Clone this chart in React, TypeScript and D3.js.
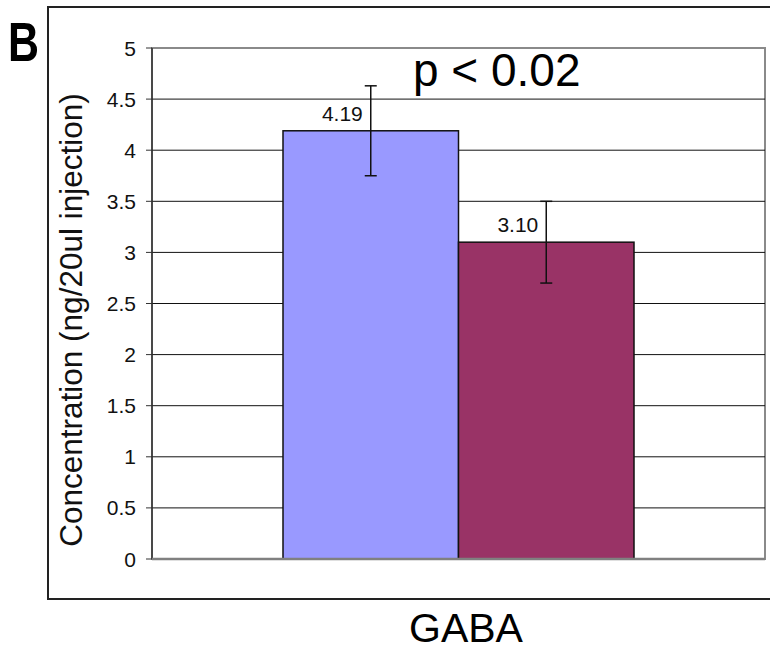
import React from 'react';
import * as d3 from 'd3';

// data
const categories = ['Control', 'Treated'];
const means = [4.19, 3.10];
const errors = [0.44, 0.40];
const barColors = ['#9999FF', '#993366'];
const yTicks = [0, 0.5, 1, 1.5, 2, 2.5, 3, 3.5, 4, 4.5, 5];
const groupLabel = 'GABA';
const yTitle = 'Concentration (ng/20ul injection)';
const annotation = 'p < 0.02';

const W = 770, H = 652;
const plot = { left: 152, right: 765, top: 48, bottom: 559 };
const font = 'Liberation Sans, Arial, sans-serif';

const App = () => {
  const y = d3.scaleLinear().domain([0, 5]).range([plot.bottom, plot.top]);
  // single category group, bars occupy the middle band
  const x = d3.scaleBand().domain(categories).range([283, 634]).padding(0);

  return (
    <svg width={W} height={H} style={{ position: 'absolute', left: 0, top: 0, background: '#fff' }}>
      {/* outer frame */}
      <rect x={48} y={7} width={760} height={592} fill="none" stroke="#222" strokeWidth={2} />
      <text x={8} y={61} fontFamily={font} fontWeight="bold" fontSize={55} textLength={31} lengthAdjust="spacingAndGlyphs">B</text>

      {/* plot area border */}
      <rect x={plot.left} y={plot.top} width={plot.right - plot.left} height={plot.bottom - plot.top} fill="#fff" stroke="#8a8a8a" strokeWidth={2} />

      {/* gridlines */}
      {yTicks.filter(t => t > 0 && t < 5).map(t => (
        <line key={t} x1={plot.left} x2={plot.right} y1={y(t)} y2={y(t)} stroke="#111" strokeWidth={1} />
      ))}

      {/* bars */}
      {categories.map((c, i) => (
        <rect key={c} x={x(c)} y={y(means[i])} width={x.bandwidth()} height={y(0) - y(means[i])}
          fill={barColors[i]} stroke="#111" strokeWidth={1.5} />
      ))}

      {/* error bars */}
      {categories.map((c, i) => {
        const cx = (x(c) as number) + x.bandwidth() / 2;
        return (
          <g key={c} stroke="#111" strokeWidth={1.5}>
            <line x1={cx} x2={cx} y1={y(means[i] + errors[i])} y2={y(means[i] - errors[i])} />
            <line x1={cx - 6} x2={cx + 6} y1={y(means[i] + errors[i])} y2={y(means[i] + errors[i])} />
            <line x1={cx - 6} x2={cx + 6} y1={y(means[i] - errors[i])} y2={y(means[i] - errors[i])} />
          </g>
        );
      })}

      {/* value labels */}
      {categories.map((c, i) => {
        const cx = (x(c) as number) + x.bandwidth() / 2;
        return (
          <text key={c} x={cx - 8} y={y(means[i]) - 10} textAnchor="end" fontFamily={font} fontSize={21} fill="#111">
            {means[i].toFixed(2)}
          </text>
        );
      })}

      {/* axes */}
      <line x1={plot.left} x2={plot.left} y1={plot.top} y2={plot.bottom} stroke="#333" strokeWidth={1.5} />
      <line x1={plot.left} x2={plot.right} y1={plot.bottom} y2={plot.bottom} stroke="#808080" strokeWidth={2.5} />
      {yTicks.map(t => (
        <g key={t}>
          <line x1={plot.left - 6} x2={plot.left} y1={y(t)} y2={y(t)} stroke="#333" strokeWidth={1} />
          <text x={136} y={y(t) + 7.5} textAnchor="end" fontFamily={font} fontSize={21} fill="#111">{t}</text>
        </g>
      ))}

      <text transform={`translate(82,320) rotate(-90)`} textAnchor="middle" fontFamily={font} fontSize={31.5} fill="#111">{yTitle}</text>

      <text x={413} y={86} fontFamily={font} fontSize={46} fill="#000">{annotation}</text>

      <text x={466} y={642} textAnchor="middle" fontFamily={font} fontSize={41} fill="#000">{groupLabel}</text>
    </svg>
  );
};

export default App;
